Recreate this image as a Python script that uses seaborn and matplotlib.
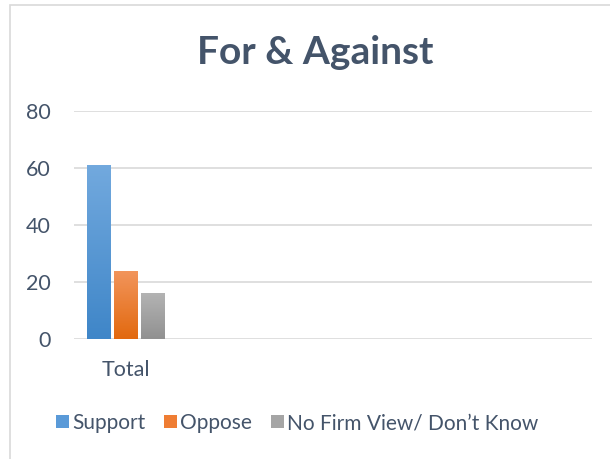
import numpy as np
import pandas as pd
import matplotlib
matplotlib.use("Agg")
import matplotlib.pyplot as plt
from matplotlib.patches import Rectangle, Patch
from matplotlib.colors import LinearSegmentedColormap
import seaborn as sns

categories = ["Total"]
series = ["Support", "Oppose", "No Firm View/ Don\u2019t Know"]
values = [61, 24, 16]
yticks = [0, 20, 40, 60, 80]

top_colors = ["#72a9de", "#f2955c", "#b3b3b3"]
bottom_colors = ["#3f86c8", "#e2690f", "#919191"]
mid_colors = ["#5a9ad8", "#ef7d33", "#a5a5a5"]

df = pd.DataFrame({"cat": categories * len(series), "series": series, "value": values})

sns.set_style("white")
plt.rcParams["font.family"] = ["Lato", "DejaVu Sans"]
text_col = "#44546a"

fig = plt.figure(figsize=(6.1, 4.59), dpi=100)
ax = fig.add_axes([74 / 610, 1 - 339 / 459, (592 - 74) / 610, (339 - 111) / 459])

sns.barplot(data=df, x="cat", y="value", hue="series", palette=mid_colors,
            width=0.78, gap=0.12, ax=ax, legend=False, errorbar=None)

# gradient fill on each bar
for patch, c0, c1 in zip(ax.patches, top_colors, bottom_colors):
    x0, y0 = patch.get_x(), patch.get_y()
    w, h = patch.get_width(), patch.get_height()
    cmap = LinearSegmentedColormap.from_list("g", [c0, c1])
    grad = np.linspace(0, 1, 100).reshape(-1, 1)
    im = ax.imshow(grad, cmap=cmap, aspect="auto", extent=[x0, x0 + w, y0, y0 + h],
                   origin="upper", zorder=patch.get_zorder() + 0.1)
    im.set_clip_path(patch)
    patch.set_edgecolor("none")

ax.set_xlim(-0.5, 4.5)
ax.set_ylim(0, 80)
ax.set_yticks(yticks)
ax.set_xticks([0])
ax.set_xticklabels(categories)
ax.set_xlabel("")
ax.set_ylabel("")
ax.grid(axis="y", color="#d9d9d9", linewidth=1.2)
ax.set_axisbelow(True)
for s in ax.spines.values():
    s.set_visible(False)
ax.tick_params(axis="both", length=0, labelsize=15.5, labelcolor=text_col)
ax.tick_params(axis="y", pad=16.5)
ax.tick_params(axis="x", pad=15)

fig.text(315 / 610, 1 - 52 / 459, "For & Against", ha="center", va="center",
         fontsize=28, fontweight="bold", color=text_col)

handles = [Patch(facecolor=c, edgecolor="none") for c in mid_colors]
fig.legend(handles, series, loc="center", bbox_to_anchor=(297 / 610, 1 - 423 / 459),
           ncol=3, frameon=False, fontsize=15, labelcolor=text_col,
           handlelength=0.63, handleheight=0.63, handletextpad=0.15, columnspacing=0.9)

# chart area border
fig.add_artist(Rectangle((10 / 610, -0.1), 1, 1.1 - 5 / 459, transform=fig.transFigure,
                         fill=False, edgecolor="#d9d9d9", linewidth=1.2))

fig.savefig("out.png", dpi=100)
